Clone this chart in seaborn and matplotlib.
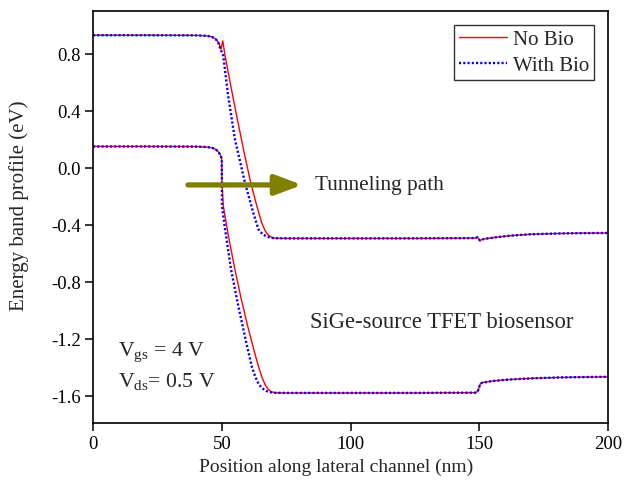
import numpy as np
import pandas as pd
import matplotlib
matplotlib.use("Agg")
import matplotlib.pyplot as plt
import seaborn as sns

# Conduction band (upper) and valence band (lower) along the channel, in eV
x_ec_nobio = [0, 20, 40, 44, 46, 47.4, 48.8, 49.7, 50.4, 51.3, 53.5, 56.0, 58.5, 61.0, 63.5,
              65.5, 66.8, 68.0, 69.4, 71.0, 75, 100, 125, 148.5, 149.3, 150.3, 151.0, 153,
              157, 162, 170, 180, 190, 200]
y_ec_nobio = [0.930, 0.930, 0.929, 0.926, 0.920, 0.907, 0.880, 0.832, 0.890, 0.785, 0.575,
              0.345, 0.125, -0.085, -0.260, -0.385, -0.440, -0.472, -0.488, -0.494, -0.495,
              -0.495, -0.495, -0.493, -0.487, -0.510, -0.503, -0.496, -0.486, -0.476,
              -0.466, -0.461, -0.458, -0.457]

x_ec_bio = [0, 20, 40, 44, 46, 47.4, 48.5, 49.3, 50.6, 52.5, 55.1, 59.0, 62.0, 64.2, 65.8,
            67.5, 69.0, 71.0, 75, 100, 125, 148.5, 149.3, 150.3, 151.0, 153, 157, 162,
            170, 180, 190, 200]
y_ec_bio = [0.930, 0.930, 0.929, 0.926, 0.920, 0.907, 0.885, 0.843, 0.785, 0.504, 0.201,
            -0.103, -0.300, -0.430, -0.465, -0.483, -0.491, -0.494, -0.495, -0.495, -0.495,
            -0.493, -0.487, -0.510, -0.503, -0.496, -0.486, -0.476, -0.466, -0.461,
            -0.458, -0.457]

x_ev_nobio = [0, 20, 40, 44, 46, 47.5, 48.7, 49.6, 50.0, 50.05, 50.3, 50.6, 52.5, 55.1,
              57.5, 60.0, 62.3, 64.2, 65.6, 66.8, 68.0, 69.4, 71, 75, 100, 125, 148.8,
              149.6, 150.4, 151.2, 155, 160, 170, 180, 190, 200]
y_ev_nobio = [0.150, 0.150, 0.149, 0.146, 0.141, 0.132, 0.112, 0.085, 0.061, -0.100, -0.173,
              -0.267, -0.470, -0.712, -0.915, -1.105, -1.265, -1.390, -1.468, -1.520,
              -1.553, -1.572, -1.578, -1.579, -1.579, -1.579, -1.577, -1.560, -1.515,
              -1.507, -1.496, -1.487, -1.477, -1.471, -1.468, -1.466]

x_ev_bio = [0, 20, 40, 44, 46, 47.5, 48.7, 49.6, 50.0, 50.05, 50.1, 51.2, 53.6, 56.5,
            59.5, 61.6, 63.0, 64.3, 65.5, 67.2, 68.7, 70.5, 75, 100, 125, 148.8, 149.6,
            150.4, 151.2, 155, 160, 170, 180, 190, 200]
y_ev_bio = [0.150, 0.150, 0.149, 0.146, 0.141, 0.132, 0.112, 0.085, 0.061, -0.100, -0.267,
            -0.420, -0.712, -0.975, -1.225, -1.390, -1.465, -1.515, -1.543, -1.565, -1.574,
            -1.578, -1.579, -1.579, -1.579, -1.577, -1.560, -1.515, -1.507, -1.496,
            -1.487, -1.477, -1.471, -1.468, -1.466]

x_ticks = [0, 50, 100, 150, 200]
y_ticks = [-1.6, -1.2, -0.8, -0.4, 0.0, 0.4, 0.8]

sns.set_theme(style="ticks")
plt.rcParams["font.family"] = ["Liberation Serif", "DejaVu Serif"]
plt.rcParams["mathtext.fontset"] = "custom"
plt.rcParams["mathtext.rm"] = "Liberation Serif"
plt.rcParams["mathtext.it"] = "Liberation Serif:italic"

fig = plt.figure(figsize=(6.24, 4.89), dpi=100)
ax = fig.add_axes([93 / 624, 65 / 489, 515 / 624, 412 / 489])

red = "#ff0000"
blue = "#0000ff"

# "No Bio": solid red
sns.lineplot(x=x_ec_nobio, y=y_ec_nobio, ax=ax, color=red, lw=1.0, sort=False,
             estimator=None, label="No Bio")
sns.lineplot(x=x_ev_nobio, y=y_ev_nobio, ax=ax, color=red, lw=1.0, sort=False,
             estimator=None)
# "With Bio": dotted blue
sns.lineplot(x=x_ec_bio, y=y_ec_bio, ax=ax, color=blue, lw=1.7, sort=False,
             estimator=None, label="With Bio", linestyle=(0, (0.9, 0.9)))
sns.lineplot(x=x_ev_bio, y=y_ev_bio, ax=ax, color=blue, lw=1.7, sort=False,
             estimator=None, linestyle=(0, (0.9, 0.9)))

ax.set_xlim(0, 200)
ax.set_ylim(-1.79, 1.10)
ax.set_xticks(x_ticks)
ax.set_yticks(y_ticks)
ax.set_xticklabels([str(v) for v in x_ticks])
ax.set_yticklabels([f"{v:.1f}" for v in y_ticks])
ax.tick_params(axis="both", direction="out", length=6, width=1.1, labelsize=13.5,
               colors="black", pad=3)
for side in ["left", "right", "top", "bottom"]:
    ax.spines[side].set_visible(True)
    ax.spines[side].set_linewidth(1.2)
    ax.spines[side].set_color("black")

ax.set_xlabel("Position along lateral channel (nm)", fontsize=14)
ax.set_ylabel("Energy band profile (eV)", fontsize=15)
ax.xaxis.set_label_coords(0.472, -0.083)
ax.yaxis.set_label_coords(-0.125, 0.53)

# Tunneling direction arrow
ax.annotate("", xy=(81.2, -0.12), xytext=(36.9, -0.12),
            arrowprops=dict(arrowstyle="-|>,head_length=0.8,head_width=0.3",
                            lw=3.8, color="#808000", mutation_scale=20,
                            shrinkA=0, shrinkB=0))
ax.text(86.2, -0.12, "Tunneling path", fontsize=15.3, va="center", ha="left")
ax.text(84.3, -1.075, "SiGe-source TFET biosensor", fontsize=16.3, va="center", ha="left")
ax.text(9.7, -1.285, r"V$_{\mathregular{gs}}$ = 4 V", fontsize=15.7, va="center", ha="left")
ax.text(9.7, -1.495, r"V$_{\mathregular{ds}}$= 0.5 V", fontsize=15.7, va="center", ha="left")

leg = ax.legend(loc="upper right", fontsize=15, frameon=True, fancybox=False,
                edgecolor="#333333", framealpha=1, handlelength=2.3,
                borderpad=0.25, labelspacing=0.3, handletextpad=0.3,
                borderaxespad=0.65)
leg.get_frame().set_linewidth(1.0)

fig.savefig("out.png", dpi=100)
